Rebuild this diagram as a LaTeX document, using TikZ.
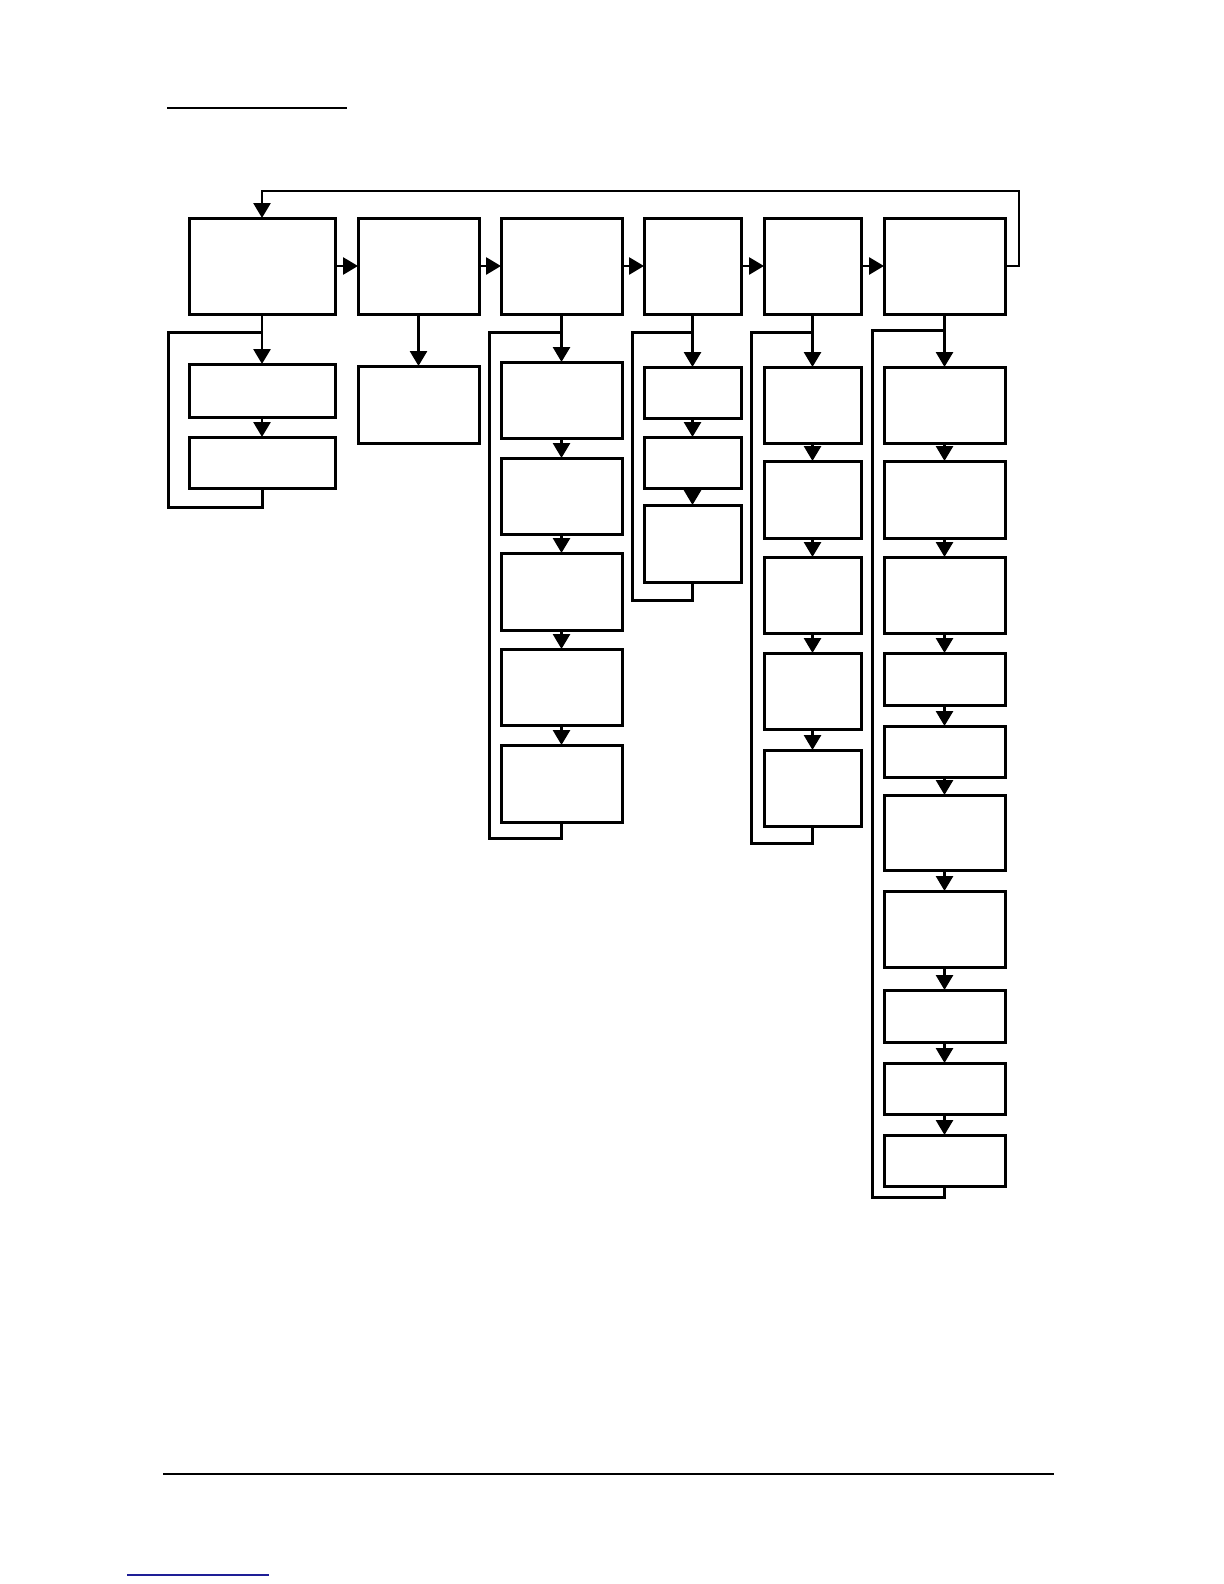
\documentclass[tikz,border=0pt]{standalone}
\usetikzlibrary{arrows.meta,fit}
\definecolor{linkblue}{RGB}{30,30,150}
\tikzset{
  box/.style={draw=black, line width=1.5pt, inner sep=0pt, outer sep=0pt, fill=white},
  conn/.style={draw=black, line width=1.4pt, -{Triangle[length=7.5pt,width=8.5pt]}},
  loopline/.style={draw=black, line width=1.5pt},
  rule/.style={draw=black, line width=0.6pt}
}
\newcommand{\bx}[5]{\node[box, fit={(#2,#3) (#4,#5)}] (#1) {};}
\begin{document}
\begin{tikzpicture}[x=0.5pt,y=-0.5pt]
\useasboundingbox (0,0) rectangle (1224,1584);
% page rules
\coordinate (r1a) at (167,108); \coordinate (r1b) at (347,108);
\draw[rule] (r1a) -- (r1b);
\coordinate (r2a) at (163,1474); \coordinate (r2b) at (1054,1474);
\draw[rule, line width=0.8pt] (r2a) -- (r2b);
\coordinate (r3a) at (127,1575); \coordinate (r3b) at (269,1575);
\draw[rule, draw=linkblue, line width=0.6pt] (r3a) -- (r3b);

% main row
\bx{b1}{189}{218}{335}{314}
\bx{b2}{358}{218}{479}{314}
\bx{b3}{501}{218}{622}{314}
\bx{b4}{644}{218}{741}{314}
\bx{b5}{764}{218}{861}{314}
\bx{b6}{884}{218}{1005}{314}
\draw[conn] (b1.east) -- (b2.west);
\draw[conn] (b2.east) -- (b3.west);
\draw[conn] (b3.east) -- (b4.west);
\draw[conn] (b4.east) -- (b5.west);
\draw[conn] (b5.east) -- (b6.west);
\coordinate (T) at (1019,191);
\draw[conn] (b6.east) -| (T) -| (b1.north);

% column 1
\bx{c1a}{189}{364}{335}{417}
\bx{c1b}{189}{437}{335}{488}
\draw[conn] (b1.south) -- (c1a.north);
\draw[conn] (c1a.south) -- (c1b.north);
\coordinate (L1t) at (168,332); \coordinate (L1b) at (168,507);
\draw[loopline] (c1b.south) |- (L1b) -- (L1t) -- (L1t -| b1.south);

% column 2
\bx{c2a}{358}{366}{479}{443}
\draw[conn] (b2.south) -- (c2a.north);

% column 3
\bx{c3a}{501}{362}{622}{438}
\bx{c3b}{501}{458}{622}{534}
\bx{c3c}{501}{553}{622}{630}
\bx{c3d}{501}{649}{622}{725}
\bx{c3e}{501}{745}{622}{822}
\draw[conn] (b3.south) -- (c3a.north);
\draw[conn] (c3a.south) -- (c3b.north);
\draw[conn] (c3b.south) -- (c3c.north);
\draw[conn] (c3c.south) -- (c3d.north);
\draw[conn] (c3d.south) -- (c3e.north);
\coordinate (L3t) at (489,332); \coordinate (L3b) at (489,838);
\draw[loopline] (c3e.south) |- (L3b) -- (L3t) -- (L3t -| b3.south);

% column 4
\bx{c4a}{644}{367}{741}{418}
\bx{c4b}{644}{437}{741}{488}
\bx{c4c}{644}{505}{741}{582}
\draw[conn] (b4.south) -- (c4a.north);
\draw[conn] (c4a.south) -- (c4b.north);
\draw[conn] (c4b.south) -- (c4c.north);
\coordinate (L4t) at (632,332); \coordinate (L4b) at (632,600);
\draw[loopline] (c4c.south) |- (L4b) -- (L4t) -- (L4t -| b4.south);

% column 5
\bx{c5a}{764}{367}{861}{443}
\bx{c5b}{764}{461}{861}{538}
\bx{c5c}{764}{557}{861}{633}
\bx{c5d}{764}{653}{861}{729}
\bx{c5e}{764}{750}{861}{826}
\draw[conn] (b5.south) -- (c5a.north);
\draw[conn] (c5a.south) -- (c5b.north);
\draw[conn] (c5b.south) -- (c5c.north);
\draw[conn] (c5c.south) -- (c5d.north);
\draw[conn] (c5d.south) -- (c5e.north);
\coordinate (L5t) at (751,332); \coordinate (L5b) at (751,843);
\draw[loopline] (c5e.south) |- (L5b) -- (L5t) -- (L5t -| b5.south);

% column 6
\bx{c6a}{884}{367}{1005}{443}
\bx{c6b}{884}{461}{1005}{538}
\bx{c6c}{884}{557}{1005}{633}
\bx{c6d}{884}{653}{1005}{705}
\bx{c6e}{884}{726}{1005}{777}
\bx{c6f}{884}{795}{1005}{870}
\bx{c6g}{884}{891}{1005}{967}
\bx{c6h}{884}{990}{1005}{1042}
\bx{c6i}{884}{1063}{1005}{1114}
\bx{c6j}{884}{1135}{1005}{1186}
\draw[conn] (b6.south) -- (c6a.north);
\draw[conn] (c6a.south) -- (c6b.north);
\draw[conn] (c6b.south) -- (c6c.north);
\draw[conn] (c6c.south) -- (c6d.north);
\draw[conn] (c6d.south) -- (c6e.north);
\draw[conn] (c6e.south) -- (c6f.north);
\draw[conn] (c6f.south) -- (c6g.north);
\draw[conn] (c6g.south) -- (c6h.north);
\draw[conn] (c6h.south) -- (c6i.north);
\draw[conn] (c6i.south) -- (c6j.north);
\coordinate (L6t) at (872,330); \coordinate (L6b) at (872,1197);
\draw[loopline] (c6j.south) |- (L6b) -- (L6t) -- (L6t -| b6.south);
\end{tikzpicture}
\end{document}
